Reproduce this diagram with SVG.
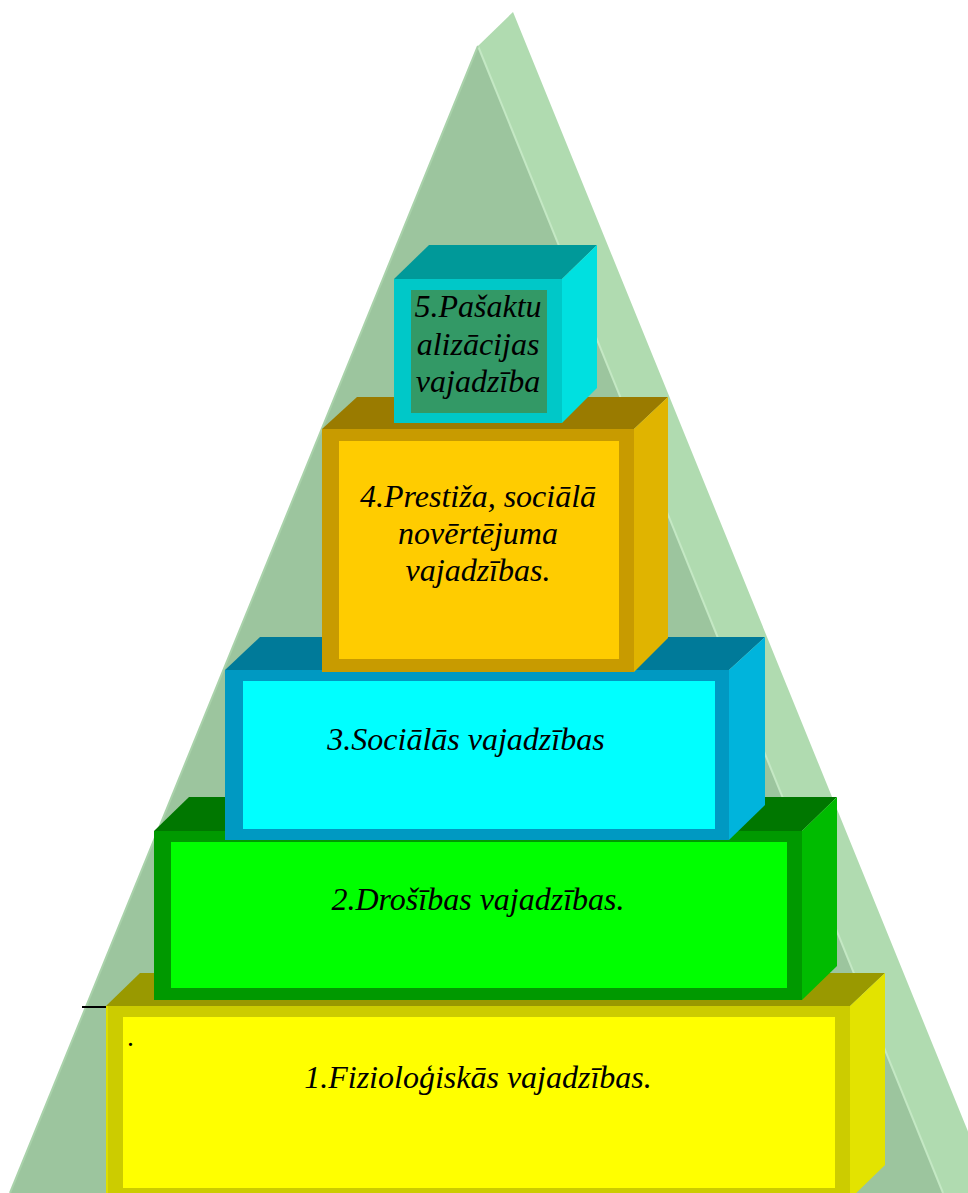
<svg xmlns="http://www.w3.org/2000/svg" width="968" height="1193" viewBox="0 0 968 1193">
  <defs>
    <style>
      .lbl { font-family: "Liberation Serif", "Times New Roman", serif; font-style: italic; font-size: 32px; fill: #000; text-anchor: middle; }
    </style>
  </defs>
  <rect width="968" height="1193" fill="#ffffff"/>

  <!-- pyramid backdrop -->
  <g id="pyramid">
    <polygon points="478,46 513,12 993,1193 943,1193" fill="#b0dbb0"/>
    <polygon points="478,46 943,1193 10,1193" fill="#9cc59e"/>
    <line x1="478" y1="46" x2="943" y2="1193" stroke="#c4e8c4" stroke-width="2"/>
    <line x1="478" y1="46" x2="10" y2="1193" stroke="#a9d2aa" stroke-width="2"/>
  </g>

  <g id="connectors"></g>

  <!-- level 1 -->
  <g id="level1">
    <polygon points="106,1006 140,973 885,973 850,1006" fill="#999900"/>
    <polygon points="850,1006 885,973 885,1165 850,1199" fill="#e3e300"/>
    <rect x="106" y="1006" width="744" height="193" fill="#cccc00"/>
    <line x1="107" y1="1006" x2="107" y2="1193" stroke="#dede00" stroke-width="2"/>
    <rect x="123" y="1017" width="712" height="171" fill="#ffff00"/>
    <text class="lbl" x="478" y="1088">1.Fizioloģiskās vajadzības.</text>
    <text class="lbl" x="131" y="1046" style="font-size:27px">.</text>
    <line x1="82" y1="1007" x2="106" y2="1007" stroke="#000" stroke-width="2"/>
  </g>

  <!-- level 2 -->
  <g id="level2">
    <polygon points="154,831 189,797 837,797 802,831" fill="#007700"/>
    <polygon points="802,831 837,797 837,966 802,1000" fill="#00bb00"/>
    <rect x="154" y="831" width="648" height="169" fill="#009900"/>
    <rect x="171" y="842" width="616" height="146" fill="#00ff00"/>
    <text class="lbl" x="478" y="910">2.Drošības vajadzības.</text>
  </g>

  <!-- level 3 -->
  <g id="level3">
    <polygon points="225,670 260,637 765,637 729,670" fill="#007a99"/>
    <polygon points="729,670 765,637 765,805 729,840" fill="#00b4dc"/>
    <rect x="225" y="670" width="504" height="170" fill="#0099c2"/>
    <rect x="243" y="681" width="472" height="148" fill="#00ffff"/>
    <text class="lbl" x="466" y="750">3.Sociālās vajadzības</text>
  </g>

  <!-- level 4 -->
  <g id="level4">
    <polygon points="322,429 357,397 668,397 634,429" fill="#9a7b00"/>
    <polygon points="634,429 668,397 668,638 634,672" fill="#e0b400"/>
    <rect x="322" y="429" width="312" height="243" fill="#c89b00"/>
    <rect x="339" y="441" width="280" height="218" fill="#ffcc00"/>
    <text class="lbl" x="478" y="507">4.Prestiža, sociālā</text>
    <text class="lbl" x="478" y="544">novērtējuma</text>
    <text class="lbl" x="478" y="581">vajadzības.</text>
  </g>

  <!-- level 5 -->
  <g id="level5">
    <polygon points="394,279 429,245 597,245 562,279" fill="#009999"/>
    <polygon points="562,279 597,245 597,388 562,423" fill="#00e0e0"/>
    <rect x="394" y="279" width="168" height="144" fill="#00c8c8"/>
    <rect x="411" y="290" width="136" height="123" fill="#339966"/>
    <text class="lbl" x="478" y="317">5.Pašaktu</text>
    <text class="lbl" x="478" y="355">alizācijas</text>
    <text class="lbl" x="478" y="392">vajadzība</text>
  </g>
</svg>
